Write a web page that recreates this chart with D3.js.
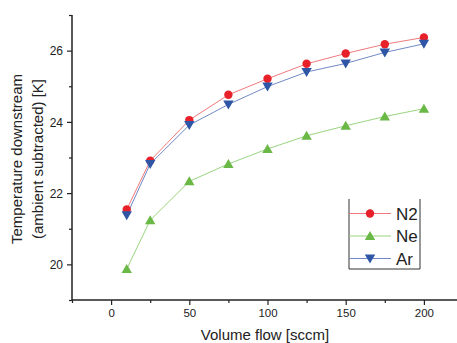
<!DOCTYPE html>
<html>
<head>
<meta charset="utf-8">
<script src="https://cdn.jsdelivr.net/npm/d3@7"></script>
<style>
body { margin: 0; background: #fff; }
text { font-family: "Liberation Sans", Arial, sans-serif; fill: #222; }
</style>
</head>
<body>
<div class="chart"></div>
<script>
var flow = [10, 25, 50, 75, 100, 125, 150, 175, 200],
n2 = [21.54, 22.91, 24.05, 24.76, 25.21, 25.63, 25.92, 26.18, 26.37],
ne = [19.87, 21.24, 22.33, 22.82, 23.24, 23.61, 23.89, 24.15, 24.37],
ar = [21.38, 22.82, 23.91, 24.49, 24.99, 25.40, 25.64, 25.95, 26.19],
xTicks = [0, 50, 100, 150, 200],
yTicks = [20, 22, 24, 26],
width = 457,
height = 343;

var series = [
  {name: "N2", values: n2, color: "#e8202a", line: "#f07a7e", symbol: "circle"},
  {name: "Ne", values: ne, color: "#6ab845", line: "#9ad47f", symbol: "up"},
  {name: "Ar", values: ar, color: "#2f56a6", line: "#7189c4", symbol: "down"}
];

var x = d3.scaleLinear().domain([-25, 225]).range([72, 463]);
var y = d3.scaleLinear().domain([19, 27]).range([300, 15]);

var svg = d3.select(".chart")
  .append("svg")
  .attr("width", width)
  .attr("height", height);

function marker(g, s, cx, cy) {
  if (s.symbol == "circle") {
    g.append("circle").attr("cx", cx).attr("cy", cy).attr("r", 4.2).attr("fill", s.color);
  } else if (s.symbol == "up") {
    g.append("path").attr("fill", s.color)
      .attr("d", "M" + cx + "," + (cy - 5) + "L" + (cx + 5.2) + "," + (cy + 4) + "L" + (cx - 5.2) + "," + (cy + 4) + "Z");
  } else {
    g.append("path").attr("fill", s.color)
      .attr("d", "M" + cx + "," + (cy + 5) + "L" + (cx + 5.2) + "," + (cy - 4) + "L" + (cx - 5.2) + "," + (cy - 4) + "Z");
  }
}

// axes
var xAxis = svg.append("g").attr("transform", "translate(0,300)")
  .call(d3.axisBottom(x).tickValues(d3.range(-25, 226, 25)).tickSize(4).tickFormat(""));
xAxis.selectAll(".tick line").attr("y2", function(d){ return d % 50 == 0 ? 5 : 3; });
xAxis.selectAll(".tick").filter(function(d){ return xTicks.indexOf(d) >= 0; })
  .append("text").attr("y", 17).attr("fill", "#222")
  .attr("font-size", 10).attr("text-anchor", "middle")
  .attr("transform", "scale(1.15,1)")
  .text(function(d){ return d; });

var yAxis = svg.append("g").attr("transform", "translate(72,0)")
  .call(d3.axisLeft(y).tickValues(d3.range(19, 27.1, 1)).tickFormat(""));
yAxis.selectAll(".tick line").attr("x2", function(d){ return d % 2 == 0 ? -5 : -3; });
yAxis.selectAll(".tick").filter(function(d){ return yTicks.indexOf(d) >= 0; })
  .append("text").attr("x", -9).attr("dy", "0.35em").attr("fill", "#222")
  .attr("font-size", 12).attr("text-anchor", "end")
  .text(function(d){ return d; });

svg.selectAll(".domain").attr("stroke", "#222").attr("stroke-width", 1.5);
svg.selectAll(".tick line").attr("stroke", "#222").attr("stroke-width", 1.2);
yAxis.select(".domain").attr("d", "M0,300V15");
xAxis.select(".domain").attr("d", "M72,0H463");

// lines + markers
var line = d3.line()
  .x(function(d, i){ return x(flow[i]); })
  .y(function(d){ return y(d); });

series.forEach(function(s) {
  svg.append("path").attr("d", line(s.values))
    .attr("fill", "none").attr("stroke", s.line).attr("stroke-width", 1);
});
series.forEach(function(s) {
  var g = svg.append("g");
  s.values.forEach(function(v, i){ marker(g, s, x(flow[i]), y(v)); });
});

// legend
var lg = svg.append("g");
lg.append("path").attr("d", "M349,199V269H420V199")
  .attr("fill", "none").attr("stroke", "#333").attr("stroke-width", 1);
series.forEach(function(s, i) {
  var ly = 213.5 + i * 22.5;
  lg.append("line").attr("x1", 349).attr("x2", 391).attr("y1", ly).attr("y2", ly)
    .attr("stroke", s.line).attr("stroke-width", 1);
  marker(lg, s, 370, ly);
  lg.append("text").attr("x", 396).attr("y", ly).attr("dy", "0.36em")
    .attr("font-size", 17).text(s.name);
});

// titles
svg.append("text").attr("x", 265).attr("y", 340).attr("text-anchor", "middle")
  .attr("font-size", 15).text("Volume flow [sccm]");
svg.append("text").attr("transform", "translate(22,159) rotate(-90)")
  .attr("text-anchor", "middle").attr("font-size", 15).text("Temperature downstream");
svg.append("text").attr("transform", "translate(43,159) rotate(-90)")
  .attr("text-anchor", "middle").attr("font-size", 15).text("(ambient subtracted) [K]");
</script>
</body>
</html>
